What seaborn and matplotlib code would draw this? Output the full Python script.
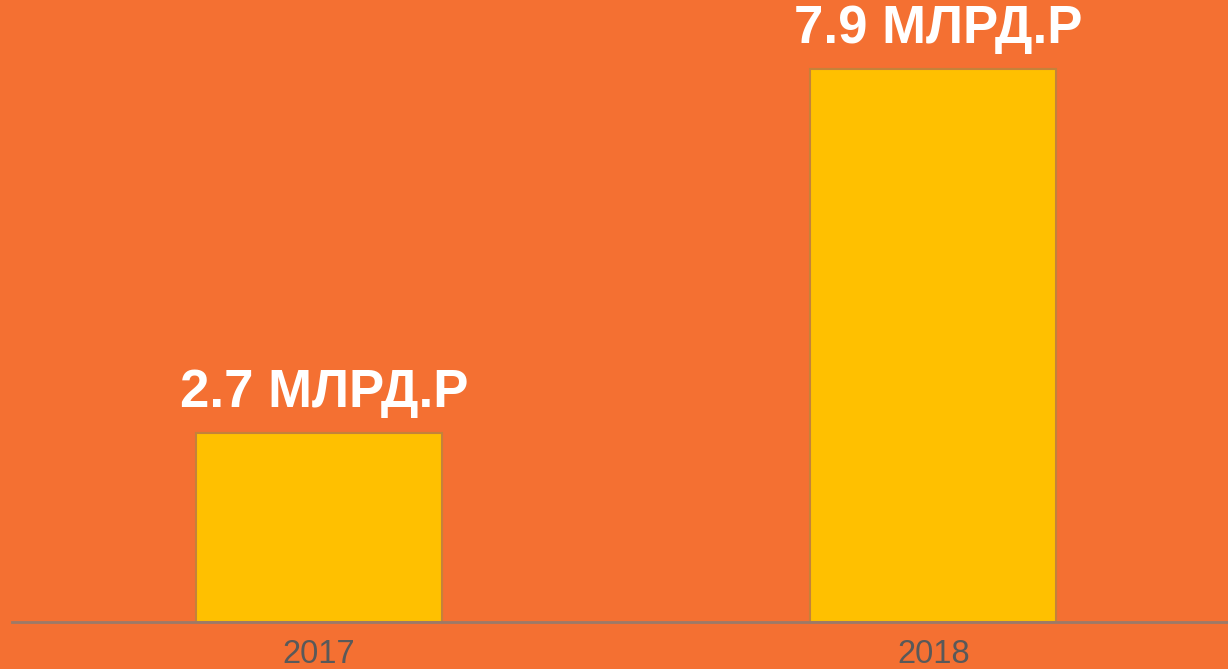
import pandas as pd
import seaborn as sns
import matplotlib.pyplot as plt

# Datos del gráfico
years = ['2017', '2018']
values = [2.7, 7.9]
labels = ['2.7 МЛРД.Р', '7.9 МЛРД.Р']

df = pd.DataFrame({'year': years, 'value': values})

bg = '#F47032'
sns.set_style('white')
plt.rcParams['font.family'] = ['Liberation Sans', 'DejaVu Sans']

fig = plt.figure(figsize=(12.28, 6.69), dpi=100, facecolor=bg)
ax = fig.add_axes([12 / 1228, 47 / 669, 1216 / 1228, 622 / 669])
ax.set_facecolor(bg)

sns.barplot(data=df, x='year', y='value', color='#FFC000', width=0.4,
            edgecolor='#C4823A', linewidth=1.5, saturation=1, ax=ax)

texts = ax.bar_label(ax.containers[0], labels=labels, padding=11,
                     fontsize=38, fontweight='bold', color='white')
# pequeño desplazamiento a la derecha, como en el original
for t in texts:
    t.xyann = (3.5, t.xyann[1])

ax.set_xlim(-0.5, 1.48)
ax.set_ylim(0, 8.886)
ax.set_xlabel('')
ax.set_ylabel('')
ax.set_yticks([])
ax.tick_params(axis='x', length=0, pad=12, labelsize=23.5, labelcolor='#595959')

for s in ['top', 'right', 'left']:
    ax.spines[s].set_visible(False)
ax.spines['bottom'].set_color('#9C7A68')
ax.spines['bottom'].set_linewidth(2)

fig.savefig('out.png', dpi=100, facecolor=bg)
